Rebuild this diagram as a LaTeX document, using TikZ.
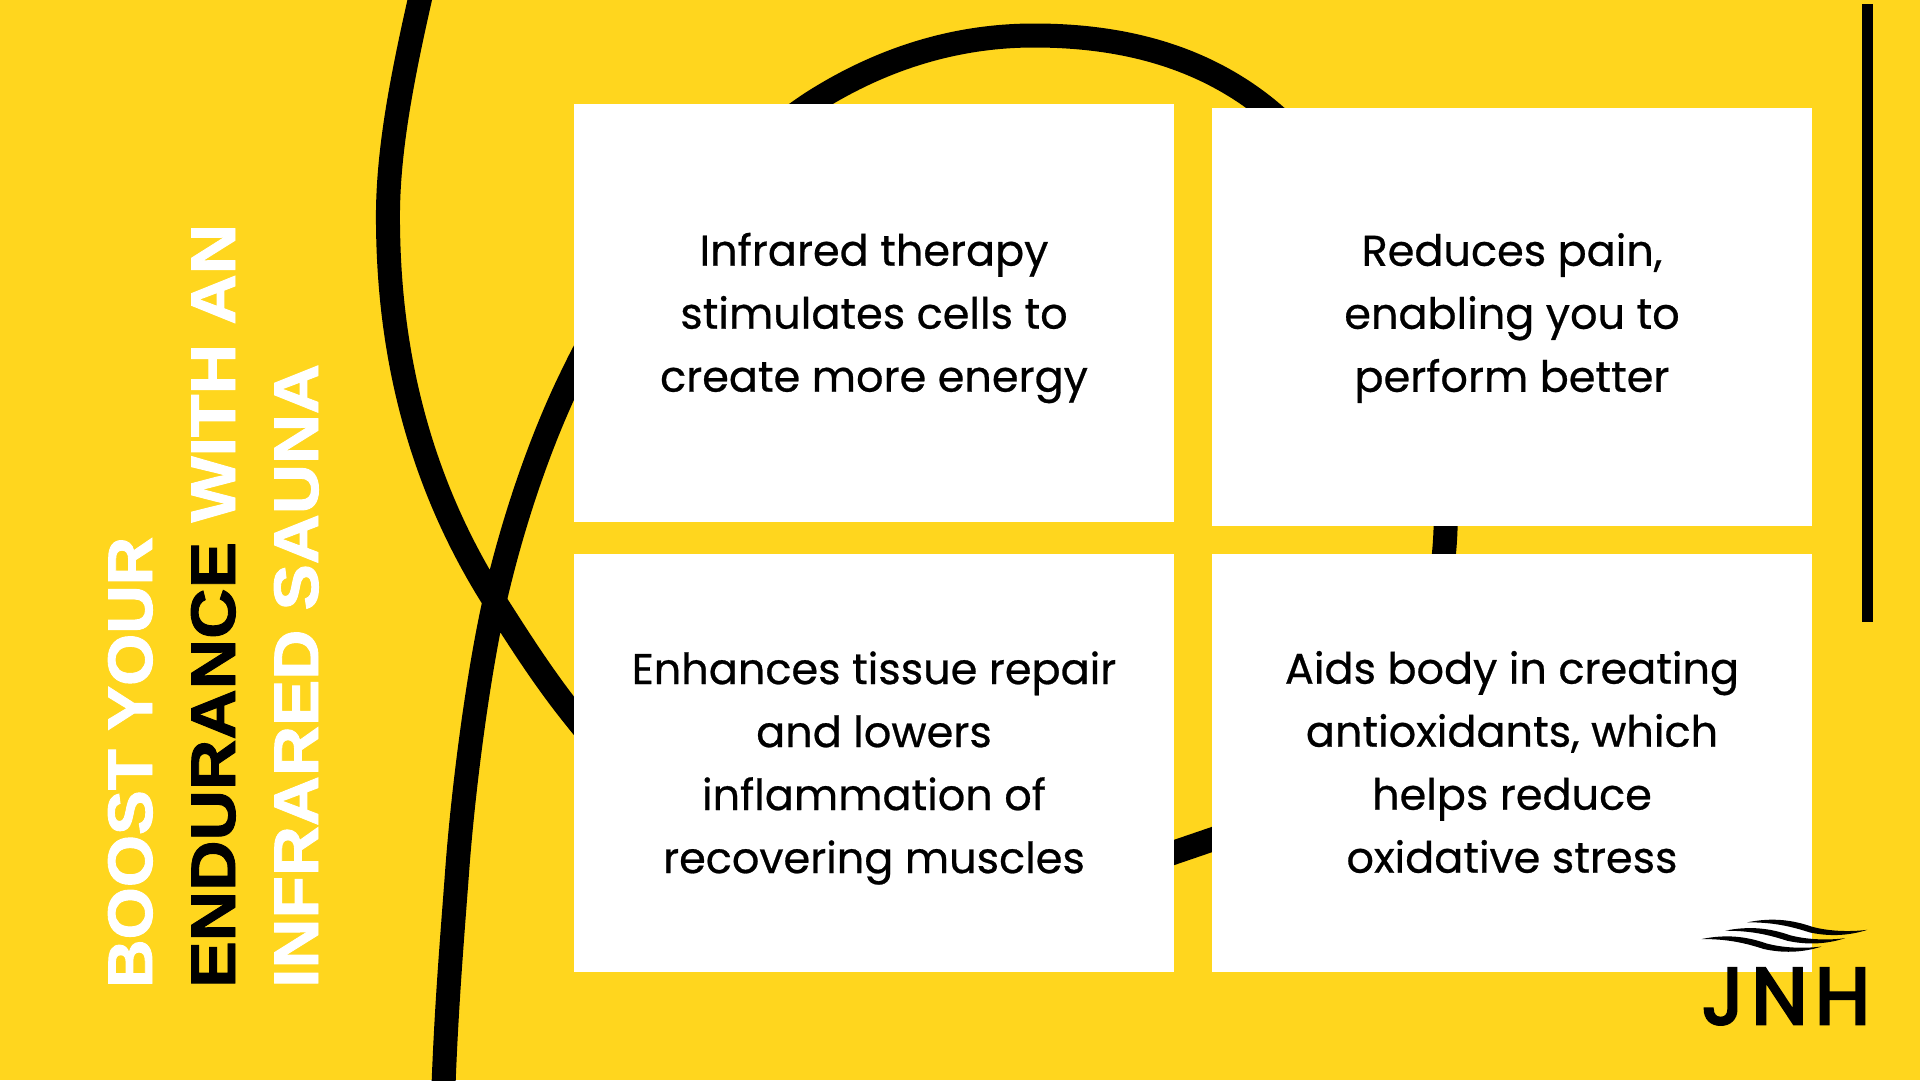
\documentclass[tikz,border=0pt]{standalone}
\usepackage{fontspec}
\usepackage{graphicx}
\setmainfont{Poppins}
\newfontfamily\bodyfont{Poppins}[RawFeature={embolden=0.6}]
\newfontfamily\titlefont{Liberation Sans Bold}[RawFeature={embolden=1.4}]
\newfontfamily\logofont{Poppins}[LetterSpace=9,RawFeature={embolden=3.5}]
\definecolor{bgyellow}{HTML}{FFD61E}
\tikzset{
  card/.style={fill=white,draw=none,inner sep=0pt,minimum width=600pt,minimum height=418pt},
  cardtext/.style={align=center,inner sep=0pt,text=black,font=\fontsize{43}{63}\bodyfont},
  titleline/.style={rotate=90,anchor=base west,inner sep=0pt,font=\fontsize{63}{63}\titlefont},
  swoosh/.style={draw=black,line width=24pt,line cap=butt,line join=round},
}
\begin{document}
\begin{tikzpicture}[x=1pt,y=-1pt]
\useasboundingbox[fill=bgyellow] (0,0) rectangle (1920,1080);
% the looping brush stroke, passes behind the cards
\draw[swoosh] (422,-10) .. controls (399,90) and (387,160) .. (388,225)
 .. controls (389,320) and (405,460) .. (494.6,601)
 .. controls (520,641) and (545,680) .. (574,716)
 .. controls (640,800) and (760,905) .. (900,910)
 .. controls (1000,915) and (1120,871) .. (1174,852.5)
 -- (1212,839.5)
 .. controls (1340,796) and (1437,680) .. (1445,540)
 .. controls (1454,400) and (1380,200) .. (1266,108)
 .. controls (1200,55) and (1120,35.5) .. (1034,35.5)
 .. controls (950,35.5) and (875,62) .. (810,104)
 .. controls (720,165) and (630,255) .. (574,372)
 .. controls (545,430) and (515,512) .. (494.6,601)
 .. controls (478,675) and (463,790) .. (457,873)
 .. controls (452,940) and (446,1010) .. (443,1100);
% right bar
\fill[black] (1862,4) rectangle (1873,622);
% cards
\node[card] (c1) at (874,313) {};
\node[card] (c2) at (1512,317) {};
\node[card] (c3) at (874,763) {};
\node[card] (c4) at (1512,763) {};
\node[cardtext] (t1) at (874,318) {Infrared therapy\\stimulates cells to\\create more energy};
\node[cardtext] (t2) at (1512,318) {Reduces pain,\\enabling you to\\perform better};
\node[cardtext] (t3) at (874,768) {Enhances tissue repair\\and lowers\\inflammation of\\recovering muscles};
\node[cardtext] (t4) at (1512,762) {Aids body in creating\\antioxidants, which\\helps reduce\\oxidative stress};
% title
\node[titleline,text=white] (title1) at (152,988) {\resizebox{451pt}{\height}{BOOST YOUR}};
\node[titleline,text=white] (title2) at (235,988) {\resizebox{764pt}{\height}{\textcolor{black}{ENDURANCE} WITH AN}};
\node[titleline,text=white] (title3) at (318,988) {\resizebox{624pt}{\height}{INFRARED SAUNA}};
% logo
\foreach \sx/\sy in {1747.3/922.3,1725/930.7,1701.7/939}{
  \fill[black,shift={(\sx,\sy)}] (0,0) .. controls (25,-5) and (45,-2.5) .. (65,4.5)
    .. controls (80,8.5) and (100,10) .. (120,7.5)
    .. controls (100,14) and (80,14) .. (62,10)
    .. controls (42,3.5) and (25,0) .. cycle;
}
\node[inner sep=0pt,anchor=base,font=\fontsize{80}{80}\logofont] (logo) at (1786,1024) {JNH};
\end{tikzpicture}
\end{document}
